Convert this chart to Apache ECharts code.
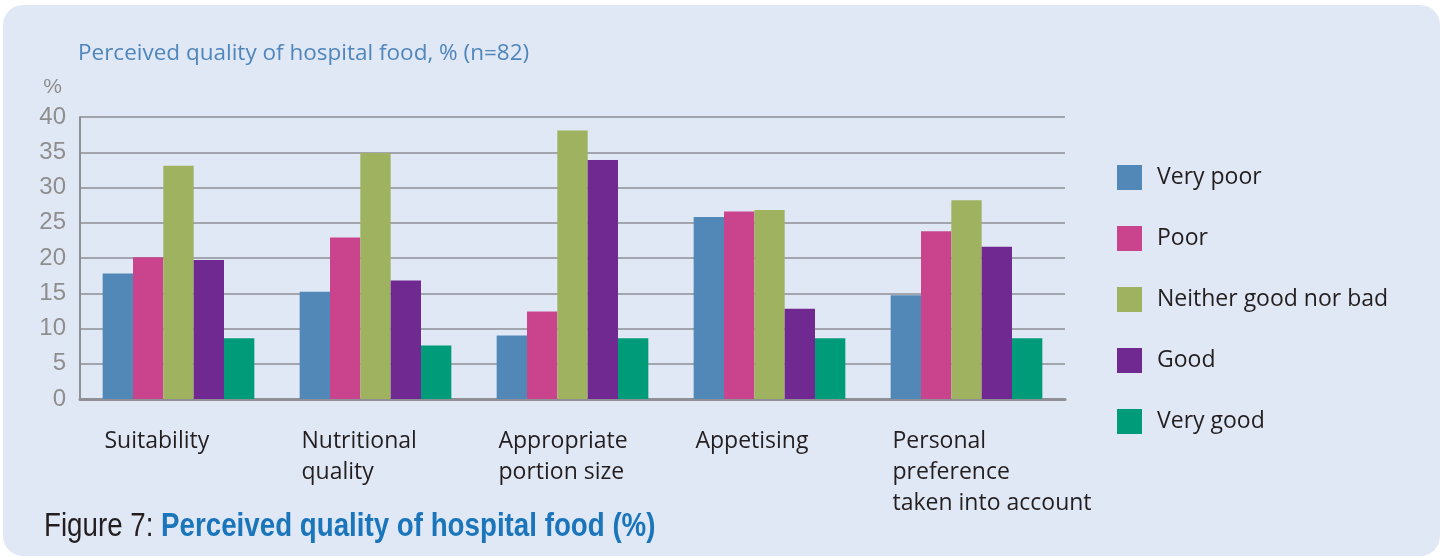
<!DOCTYPE html>
<html>
<head>
<meta charset="utf-8">
<script src="https://cdn.jsdelivr.net/npm/echarts@6/dist/echarts.min.js"></script>
<style>
  html, body { margin: 0; padding: 0; background: #fff; }
  .panel {
    position: absolute; left: 3px; top: 5px; width: 1437px; height: 551px;
    background: #e1e8f5; border-radius: 20px;
  }
  #chart { position: absolute; left: 0; top: 0; width: 1444px; height: 558px; }
</style>
</head>
<body>
<div class="panel"></div>
<div id="chart"></div>
<script>
// categories along the x axis
const categories = [
  'Suitability',
  'Nutritional\nquality',
  'Appropriate\nportion size',
  'Appetising',
  'Personal\npreference\ntaken into account'
]

// answer levels (legend) and their colours
const levels = ['Very poor', 'Poor', 'Neither good nor bad', 'Good', 'Very good']
const colors = ['#5288b8', '#c9448d', '#9eb25f', '#6f2990', '#009c7a']

// percentages per level, one value per category
const veryPoor = [17.8, 15.2, 9.0, 25.8, 14.7]
const poor = [20.1, 22.9, 12.4, 26.6, 23.8]
const neither = [33.1, 34.9, 38.1, 26.8, 28.2]
const good = [19.7, 16.8, 33.9, 12.8, 21.6]
const veryGood = [8.6, 7.6, 8.6, 8.6, 8.6]

const seriesData = [veryPoor, poor, neither, good, veryGood]

const myChart = echarts.init(document.getElementById('chart'))

const option = {
  backgroundColor: 'transparent',
  animation: false,
  color: colors,
  title: {
    text: 'Perceived quality of hospital food, % (n=82)',
    left: 73,
    top: 37,
    textStyle: {
      color: '#4f86bb',
      fontFamily: 'Open Sans',
      fontSize: 22.5,
      fontWeight: 'normal'
    }
  },
  // figure caption under the chart, condensed like the original
  graphic: [{
    type: 'text',
    x: 44,
    y: 527,
    scaleX: 0.84,
    style: {
      text: 'Figure 7: {b|Perceived quality of hospital food (%)}',
      fill: '#231f20',
      font: '33px "Liberation Sans", Arial, sans-serif',
      verticalAlign: 'middle',
      rich: {
        b: {
          fill: '#1a75bb',
          fontFamily: 'Liberation Sans',
          fontSize: 33,
          fontWeight: 'bold'
        }
      }
    }
  }],
  legend: {
    orient: 'vertical',
    left: 1112,
    top: 160,
    itemWidth: 25,
    itemHeight: 25,
    itemGap: 36,
    icon: 'rect',
    textStyle: {
      color: '#231f20',
      fontFamily: 'Open Sans',
      fontSize: 23,
      padding: [0, 0, 0, 10]
    },
    data: levels
  },
  grid: {
    left: 80,
    right: 379,
    top: 117,
    bottom: 159,
    containLabel: false
  },
  xAxis: {
    type: 'category',
    data: categories,
    axisTick: { show: false },
    axisLine: { lineStyle: { color: '#8e9096', width: 3 } },
    axisLabel: {
      align: 'left',
      margin: 27,
      padding: [0, 0, 0, -74],
      color: '#231f20',
      fontFamily: 'Open Sans',
      fontSize: 23,
      lineHeight: 31,
      interval: 0
    }
  },
  yAxis: {
    type: 'value',
    min: 0,
    max: 40,
    interval: 5,
    name: '%',
    nameLocation: 'end',
    nameGap: 19,
    nameTextStyle: {
      color: '#8e8e8e',
      fontFamily: 'Liberation Sans',
      fontSize: 21,
      align: 'right',
      padding: [0, 18, 0, 0]
    },
    axisLine: { show: true, lineStyle: { color: '#8e9096', width: 2 } },
    axisTick: { show: false },
    splitLine: { lineStyle: { color: '#a1a5ad', width: 2 } },
    axisLabel: {
      color: '#8e8e8e',
      fontFamily: 'Liberation Sans',
      fontSize: 24,
      margin: 14
    }
  },
  series: levels.map((name, i) => ({
    name: name,
    type: 'bar',
    data: seriesData[i],
    barGap: '0%',
    barCategoryGap: '23%'
  }))
}

myChart.setOption(option)
</script>
</body>
</html>
